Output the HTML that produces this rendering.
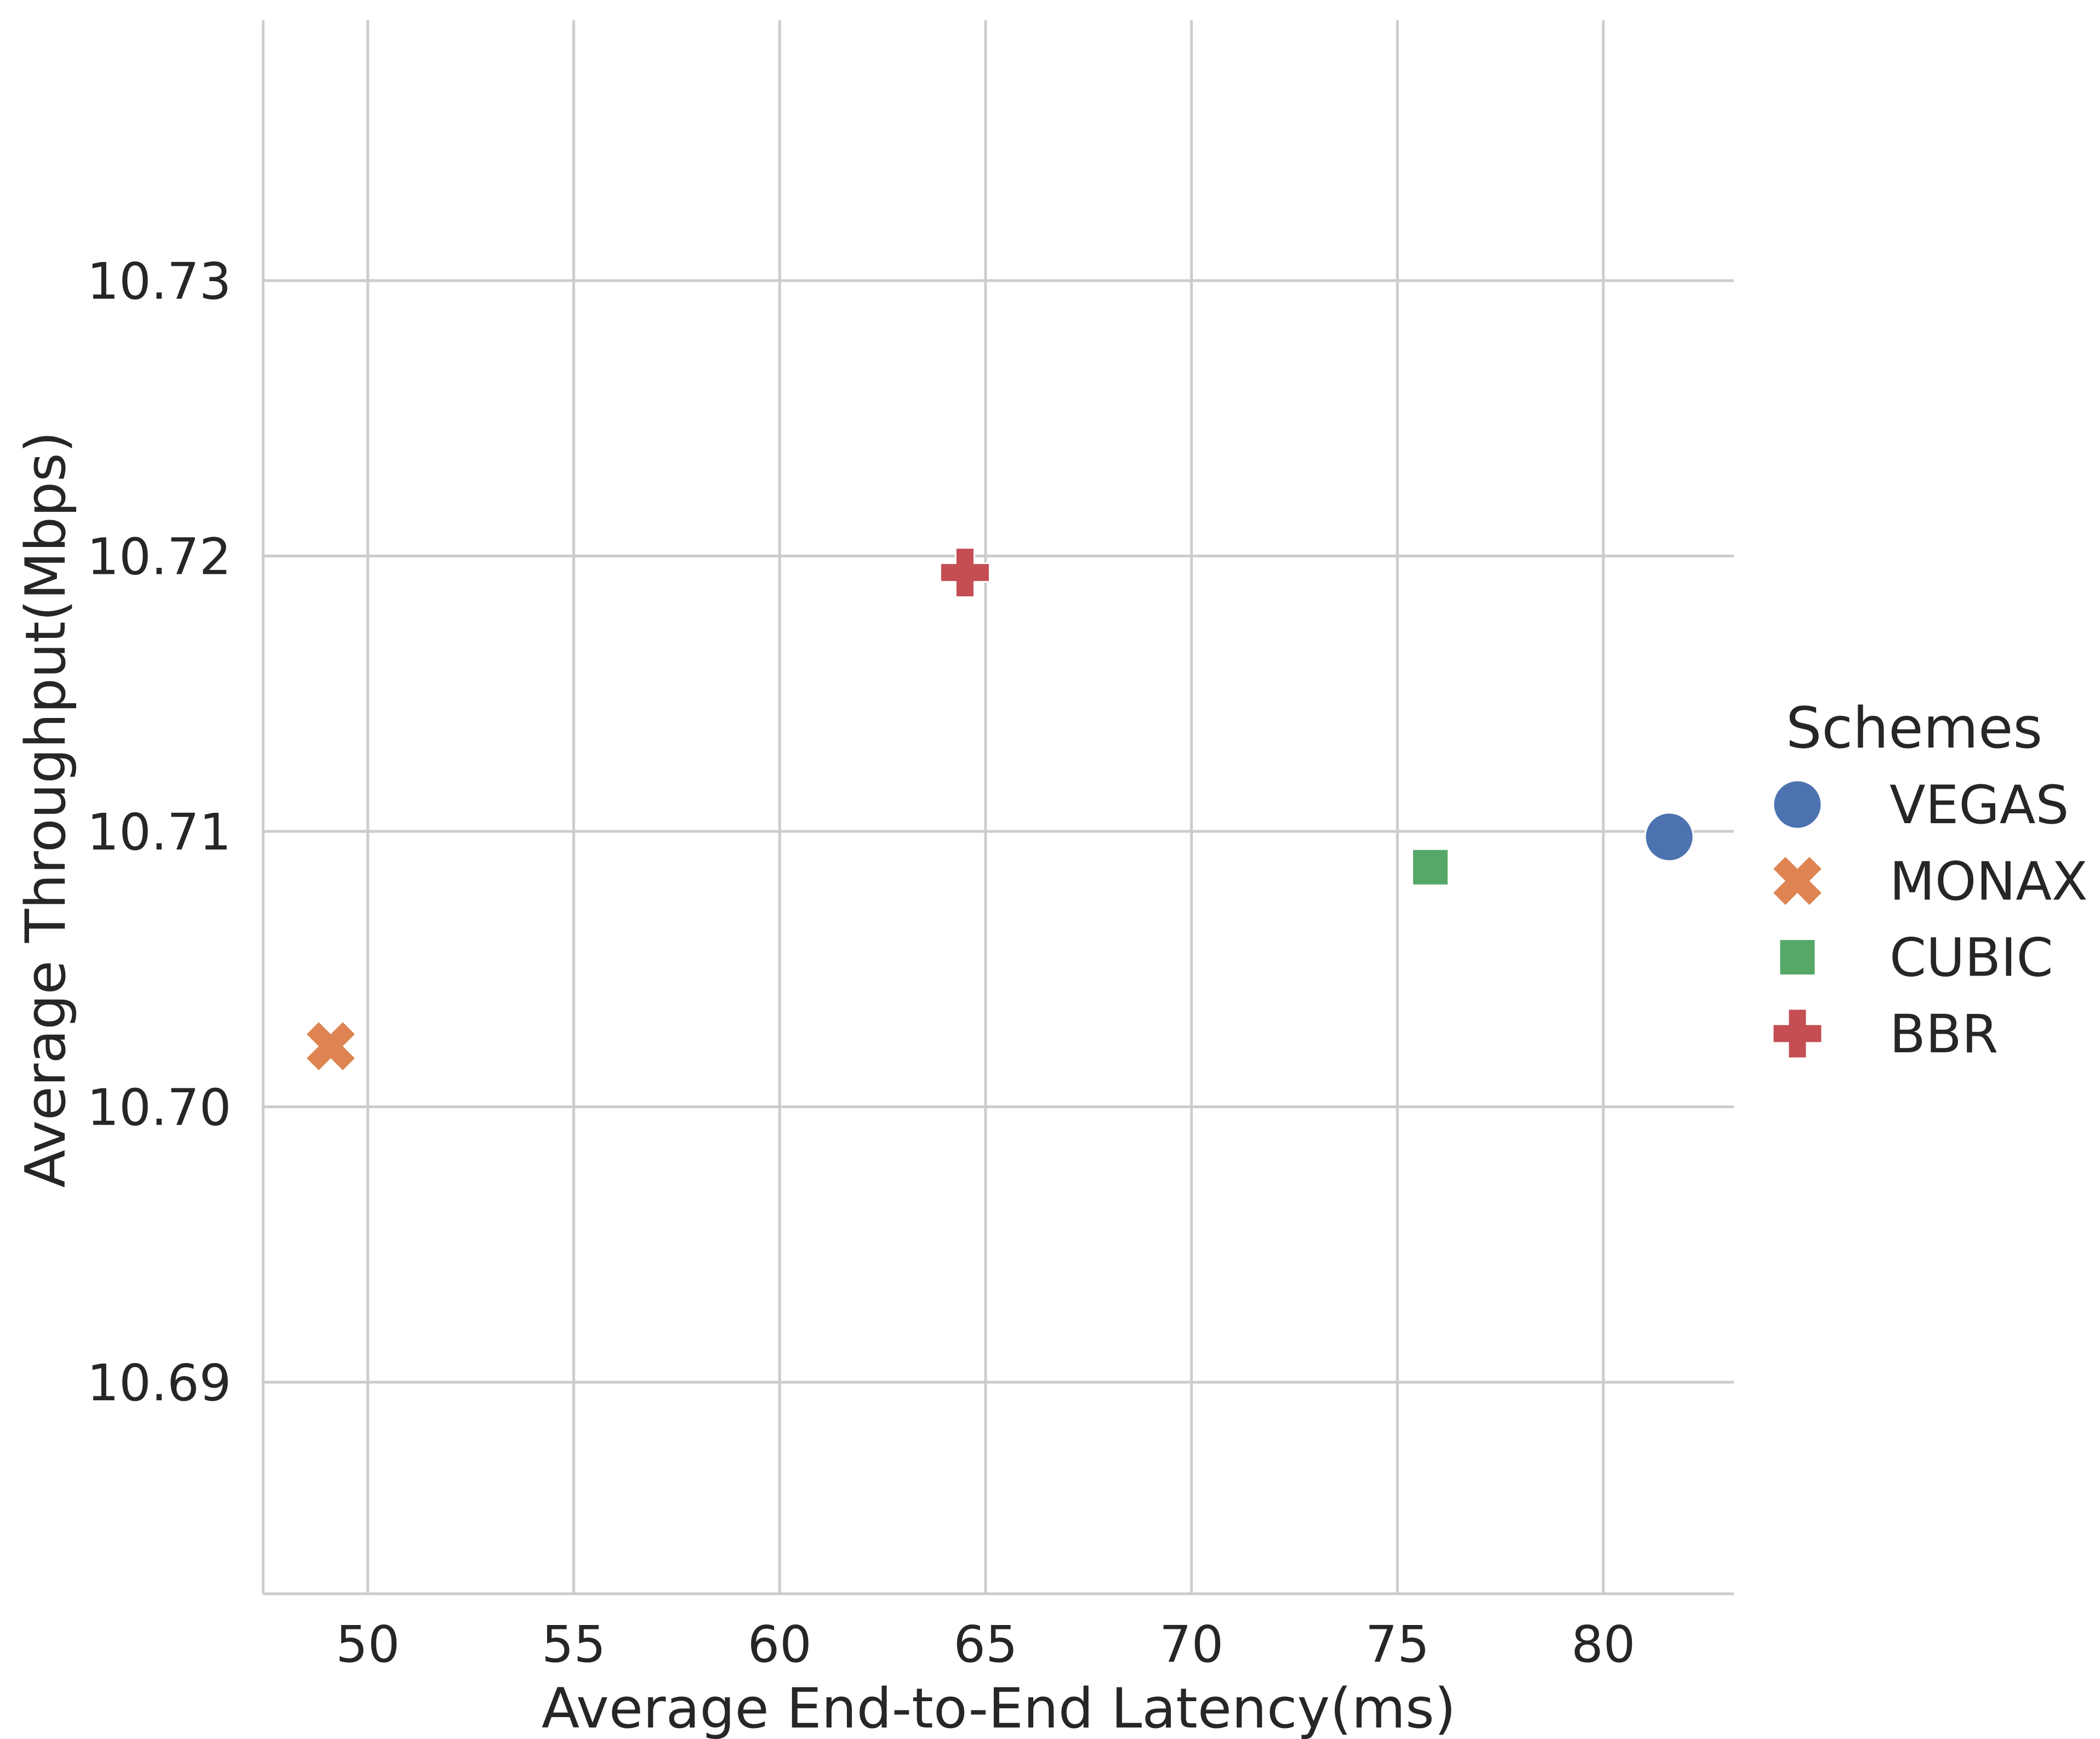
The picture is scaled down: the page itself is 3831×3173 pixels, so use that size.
<!DOCTYPE html>
<html><head><meta charset="utf-8"><style>
html,body{margin:0;padding:0;background:#fff;}
svg{display:block;font-family:"DejaVu Sans","Liberation Sans",sans-serif;}
</style></head><body>
<svg id="chart" width="3831" height="3173" viewBox="0 0 3831 3173" xmlns="http://www.w3.org/2000/svg">
<g id="grid"></g>
<g id="axes"></g>
<g id="marks"></g>
<text x="1822" y="3152" font-size="101" fill="#262626" text-anchor="middle">Average End-to-End Latency(ms)</text>
<text x="0" y="0" transform="translate(118,1477) rotate(-90)" font-size="101" fill="#262626" text-anchor="middle">Average Throughput(Mbps)</text>
<g id="legend">
<text x="3492" y="1364" font-size="103" fill="#262626" text-anchor="middle">Schemes</text>
</g>
</svg>
<script>
const schemes = ["VEGAS","MONAX","CUBIC","BBR"];
const latency = [81.6, 49.1, 75.8, 64.5];
const throughput = [10.7098, 10.7022, 10.7087, 10.7194];
const colors = ["#4c72b0","#dd8452","#55a868","#c44e52"];
const shapes = ["circle","x","square","plus"];
const xTicks = [50,55,60,65,70,75,80];
const yTicks = [10.69,10.70,10.71,10.72,10.73];

const L=480,R=3163,T=37,B=2908;
function xs(v){return 671+(v-50)*75.13;}
function ys(v){return 2522-(v-10.69)*50250;}
const NS="http://www.w3.org/2000/svg";
function mk(tag,attrs,parent){const e=document.createElementNS(NS,tag);for(const k in attrs)e.setAttribute(k,attrs[k]);parent.appendChild(e);return e;}
const grid=document.getElementById('grid'),axes=document.getElementById('axes'),marks=document.getElementById('marks'),legend=document.getElementById('legend');

xTicks.forEach(t=>{
  const l=mk('line',{x1:xs(t),x2:xs(t),y1:T,y2:B,stroke:'#cccccc','stroke-width':5},grid);
  
  
  const tx=mk('text',{x:xs(t),y:3032,'font-size':92,fill:'#262626','text-anchor':'middle'},axes);
  tx.textContent=t;
  
  
});
yTicks.forEach(t=>{
  const l=mk('line',{x1:L,x2:R,y1:ys(t),y2:ys(t),stroke:'#cccccc','stroke-width':5},grid);
  
  
  const tx=mk('text',{x:422,y:ys(t)+33,'font-size':92,fill:'#262626','text-anchor':'end'},axes);
  tx.textContent=t.toFixed(2);
  
  
});
const sl=mk('line',{x1:L,x2:L,y1:T,y2:B,stroke:'#cccccc','stroke-width':5},axes);


const sb=mk('line',{x1:L,x2:R,y1:B,y2:B,stroke:'#cccccc','stroke-width':5},axes);



function marker(shape,cx,cy,color,parent){
  let e;
  if(shape==='circle'){e=mk('circle',{cx:cx,cy:cy,r:44,fill:color,stroke:'#fff','stroke-width':3},parent);}
  else if(shape==='square'){e=mk('rect',{x:cx-33,y:cy-33,width:66,height:66,fill:color,stroke:'#fff','stroke-width':3},parent);}
  else if(shape==='plus'){const a=45,w=17;e=mk('path',{d:`M${cx-w},${cy-a}h${2*w}v${a-w}h${a-w}v${2*w}h${-(a-w)}v${a-w}h${-2*w}v${-(a-w)}h${-(a-w)}v${-2*w}h${a-w}z`,fill:color,stroke:'#fff','stroke-width':3},parent);}
  else {const a=48,w=17;e=mk('path',{d:`M${cx-w},${cy-a}h${2*w}v${a-w}h${a-w}v${2*w}h${-(a-w)}v${a-w}h${-2*w}v${-(a-w)}h${-(a-w)}v${-2*w}h${a-w}z`,fill:color,stroke:'#fff','stroke-width':3,transform:`rotate(45 ${cx} ${cy})`},parent);}
  return e;
}
schemes.forEach((s,i)=>{
  const m=marker(shapes[i],xs(latency[i]),ys(throughput[i]),colors[i],marks);
  
  
  const ly=1468+i*139.3;
  const lm=marker(shapes[i],3279,ly,colors[i],legend);
  
  
  const lt=mk('text',{x:3447,y:ly+34,'font-size':96,fill:'#262626'},legend);
  lt.textContent=s;
  
  
});
</script>
</body></html>
